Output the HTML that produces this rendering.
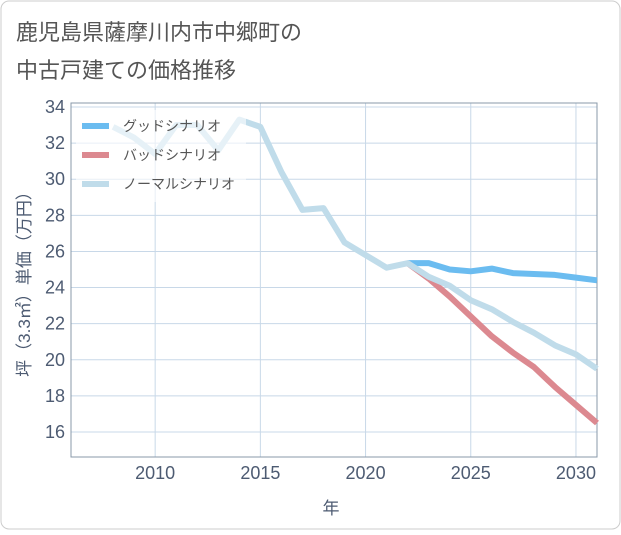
<!DOCTYPE html>
<html><head><meta charset="utf-8"><style>
body{margin:0;background:#fff;}
svg text{font-family:"Liberation Sans","Noto Sans CJK JP",sans-serif;}
</style></head><body>
<svg width="621" height="530" xmlns="http://www.w3.org/2000/svg" id="chart">
<rect x="1" y="1" width="619" height="528" rx="8" fill="#fff" stroke="#ccc"/>
<text x="16" y="40" font-size="22" fill="#555">鹿児島県薩摩川内市中郷町の</text>
<text x="16" y="78" font-size="22" fill="#555">中古戸建ての価格推移</text>
<g id="grid"></g>
<g id="axes"></g>
<g id="series"></g>
<g id="legend"></g>
<text x="331" y="514" font-size="17" fill="#4d5b72" text-anchor="middle">年</text>
<text transform="translate(30,280) rotate(-90)" font-size="17" fill="#4d5b72" text-anchor="middle">坪（3.3㎡）単価（万円）</text>
</svg>
<script>
const years=[2008,2009,2010,2011,2012,2013,2014,2015,2016,2017,2018,2019,2020,2021,2022,2023,2024,2025,2026,2027,2028,2029,2030,2031];
const normalVals=[32.9,32.3,31.4,33.0,33.0,31.6,33.3,32.9,30.4,28.3,28.4,26.5,25.8,25.1,25.35,24.6,24.1,23.3,22.8,22.1,21.5,20.8,20.3,19.5];
const futureYears=[2022,2023,2024,2025,2026,2027,2028,2029,2030,2031];
const goodVals=[25.35,25.35,25.0,24.9,25.05,24.8,24.75,24.7,24.55,24.4];
const badVals=[25.35,24.5,23.5,22.4,21.3,20.4,19.6,18.5,17.5,16.5];
const xTicks=[2010,2015,2020,2025,2030];
const yTicks=[16,18,20,22,24,26,28,30,32,34];
const legendLabels=["グッドシナリオ","バッドシナリオ","ノーマルシナリオ"];
const L=71,R=597,T=103,B=457;
const X=v=>L+(v-2006)*(R-L)/25;
const Y=v=>432-(v-16)*(432-107)/18;
const NS="http://www.w3.org/2000/svg";
function mk(tag,attrs,parent){const e=document.createElementNS(NS,tag);for(const k in attrs)e.setAttribute(k,attrs[k]);parent.appendChild(e);return e;}
const grid=document.getElementById('grid'),axes=document.getElementById('axes'),series=document.getElementById('series'),legend=document.getElementById('legend');
yTicks.forEach(v=>{
 const l=mk('line',{x1:L,x2:R,y1:Y(v),y2:Y(v),stroke:'#c8d8e8','stroke-width':1},grid);
 
 
 const t=mk('text',{x:L-6,y:Y(v)+6,'font-size':18,fill:'#4d5b72','text-anchor':'end'},axes);
 t.textContent=v;
 
 
});
xTicks.forEach(v=>{
 const l=mk('line',{x1:X(v),x2:X(v),y1:T,y2:B,stroke:'#c8d8e8','stroke-width':1},grid);
 
 
 const t=mk('text',{x:X(v),y:B+22,'font-size':18,fill:'#4d5b72','text-anchor':'middle'},axes);
 t.textContent=v;
 
 
});
const frame=mk('rect',{x:L,y:T,width:R-L,height:B-T,fill:'none',stroke:'#8899aa','stroke-width':1},axes);


function line(xs,ys,color,name){
 const p=mk('polyline',{points:xs.map((x,i)=>X(x)+','+Y(ys[i])).join(' '),fill:'none',stroke:color,'stroke-width':6,'stroke-linejoin':'round'},series);
 
 
}
line(futureYears,goodVals,'#6bbcf0','good-scenario-line');
line(futureYears,badVals,'#dc8990','bad-scenario-line');
line(years,normalVals,'#c0dcea','normal-scenario-line');
const bg=mk('rect',{x:76,y:110,width:170,height:92,fill:'#fff','fill-opacity':0.6},legend);


const colors=['#6bbcf0','#dc8990','#c0dcea'];
legendLabels.forEach((s,i)=>{
 const y=126+i*29;
 const sw=mk('line',{x1:82,x2:109,y1:y,y2:y,stroke:colors[i],'stroke-width':6},legend);
 
 
 const t=mk('text',{x:123,y:y+5,'font-size':14,fill:'#555'},legend);
 t.textContent=s;
 
 
});
</script>
</body></html>
